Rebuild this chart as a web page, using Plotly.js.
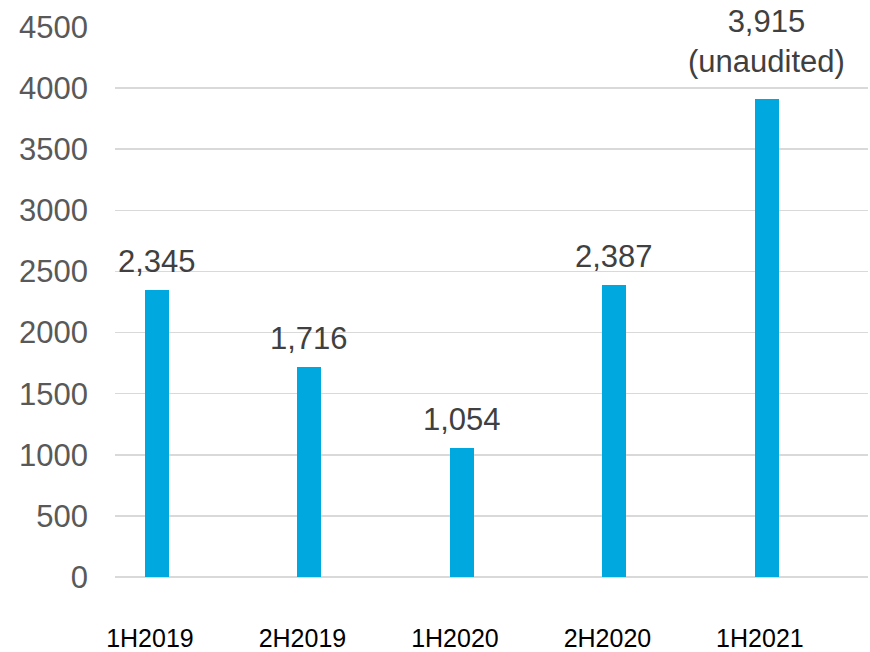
<!DOCTYPE html>
<html>
<head>
<meta charset="utf-8">
<script src="https://cdn.plot.ly/plotly-3.0.1.min.js"></script>
<style>
html,body{margin:0;padding:0;background:#fff;}
#chart{width:870px;height:652px;}
</style>
</head>
<body>
<div id="chart"></div>
<script>
const categories = ["1H2019", "2H2019", "1H2020", "2H2020", "1H2021"];
const values = [2345, 1716, 1054, 2387, 3915];
const valueLabels = ["2,345", "1,716", "1,054", "2,387", "3,915<br>(unaudited)"];
const yTicks = [0, 500, 1000, 1500, 2000, 2500, 3000, 3500, 4000, 4500];

const trace = {
  type: "bar",
  x: categories,
  y: values,
  width: 0.157,
  marker: {color: "#00a8e0", line: {width: 0}},
  hoverinfo: "skip"
};

const annotations = categories.map((c, i) => ({
  x: c,
  y: values[i],
  xref: "x",
  yref: "y",
  text: valueLabels[i],
  showarrow: false,
  yanchor: "bottom",
  xanchor: "center",
  yshift: valueLabels[i].indexOf("<br>") >= 0 ? 17 : 9,
  font: {family: "Liberation Sans, Arial, sans-serif", size: 31, color: "#404040"}
}));

const layout = {
  width: 870,
  height: 652,
  margin: {l: 115, r: 2, t: 27, b: 75},
  paper_bgcolor: "#ffffff",
  plot_bgcolor: "#ffffff",
  showlegend: false,
  bargap: 0,
  xaxis: {
    type: "category",
    range: [-0.275, 4.663],
    showgrid: false,
    zeroline: false,
    showline: false,
    ticks: "",
    ticklabelstandoff: 44,
    ticklabelshift: -7,
    tickfont: {family: "Liberation Sans, Arial, sans-serif", size: 25, color: "#000000"}
  },
  yaxis: {
    range: [0, 4500],
    tickvals: yTicks,
    ticktext: yTicks.map(String),
    showgrid: true,
    gridcolor: "#d9d9d9",
    gridwidth: 1.5,
    zeroline: true,
    zerolinecolor: "#d9d9d9",
    zerolinewidth: 2,
    showline: false,
    ticks: "",
    ticklabelstandoff: 26,
    tickfont: {family: "Liberation Sans, Arial, sans-serif", size: 31, color: "#595959"}
  },
  annotations: annotations
};

Plotly.newPlot("chart", [trace], layout, {displayModeBar: false, staticPlot: true});
</script>
</body>
</html>
